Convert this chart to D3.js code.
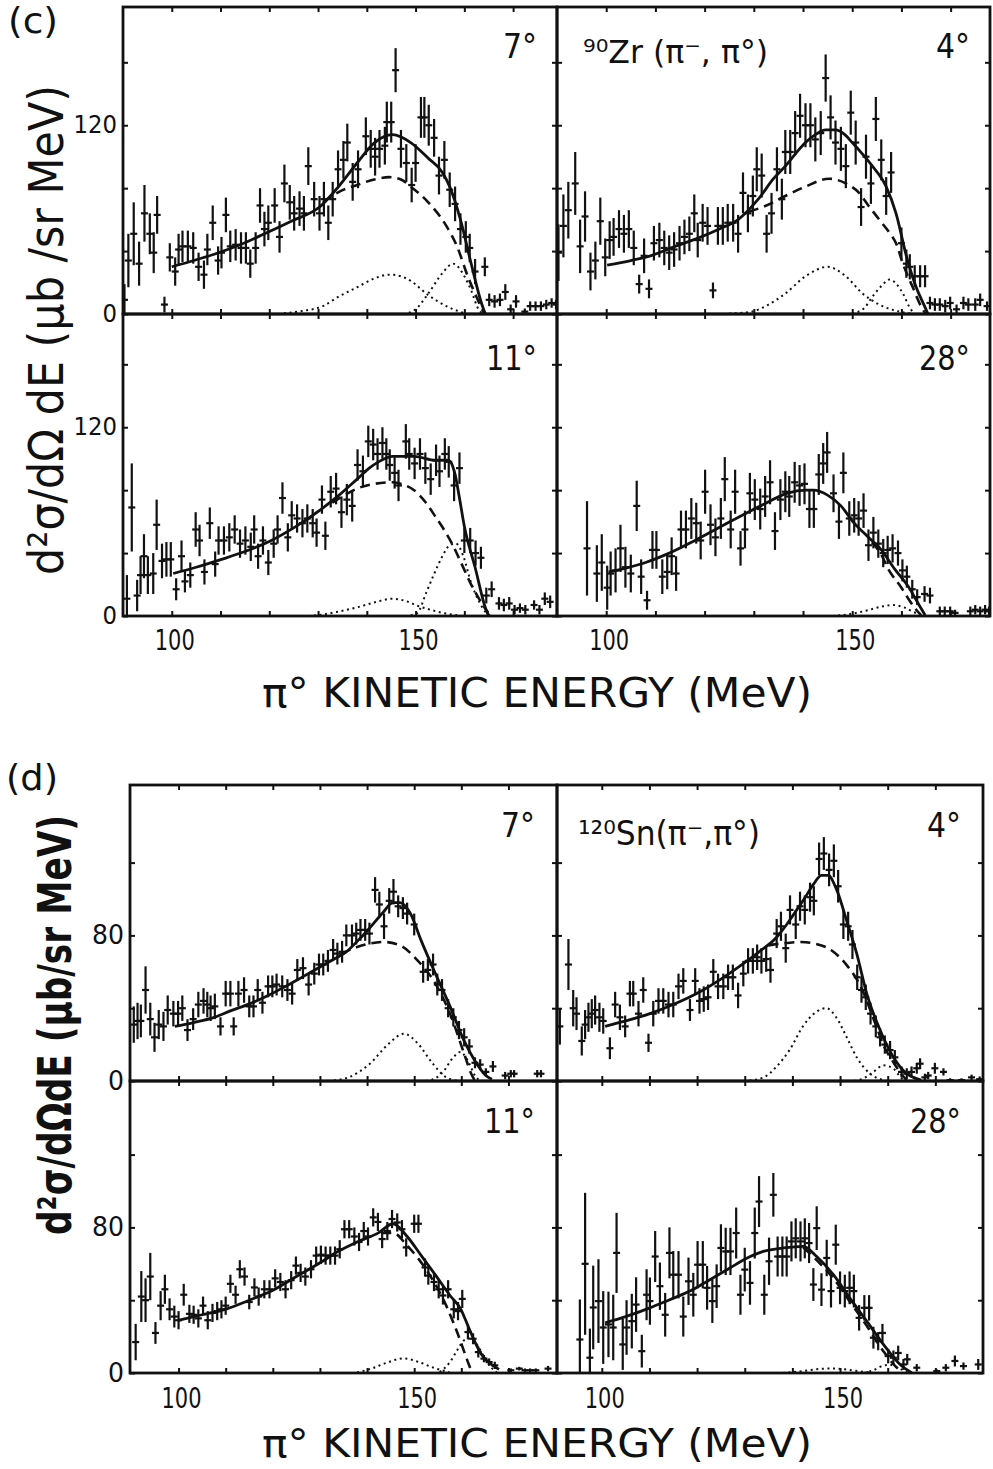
<!DOCTYPE html>
<html><head><meta charset="utf-8">
<script src="https://cdn.jsdelivr.net/npm/d3@7/dist/d3.min.js"></script>
<style>body{margin:0;background:#fff}svg{display:block}</style>
</head><body>
<svg id="fig" width="993" height="1469"></svg>
<script>
// ---------------- DATA ([energy MeV, value, error]) ----------------
const zr7 = [[90.3,9,10],[91.1,34,17],[92.2,51,20],[93.3,32,14],[94.4,64,18],[95.5,51,13],[96.3,39,13],[97,63,12],[98.5,6,5],[99.6,36,9],[100.7,27,9],[101.4,41,10],[102.2,43,10],[103.3,43,10],[104.4,42,10],[105.5,30,9],[106.6,25,9],[107.3,41,10],[108.4,58,11],[109.5,34,9],[110.2,39,10],[111.1,63,11],[112,43,10],[113.1,44,10],[114.2,42,10],[115.2,42,10],[116.1,32,9],[117.2,42,10],[118.1,69,11],[119,54,11],[119.8,58,11],[121.1,69,11],[122.1,49,10],[123.1,83,12],[124.2,71,11],[125.1,64,11],[126.2,67,11],[127.1,64,11],[128,94,12],[129.2,73,11],[130.3,64,11],[131.2,73,11],[132.1,58,11],[133,73,11],[134.1,92,12],[135.2,98,12],[136,109,12],[137.1,84,12],[138.2,92,12],[139.8,113,12],[140.8,105,12],[141.7,100,12],[142.6,105,12],[143.7,107,12],[144.1,122,13],[145,122,13],[145.9,155,14],[147,105,12],[148.1,96,12],[149.2,82,11],[150,96,12],[151.1,125,13],[151.8,125,13],[152.7,120,13],[153.8,112,12],[154.8,88,12],[155.9,98,12],[157,79,11],[158.1,70,11],[159.2,54,10],[160.3,49,10],[161.1,42,9],[162.2,27,8],[164.2,30,6],[165.1,9,4],[166.2,8,4],[167.3,9,4],[168.4,14,5],[169.5,3,3],[170.6,8,4],[172.4,1.5,2],[173.5,5,3],[174.6,5,3],[175.7,5,3],[176.8,6,3],[177.9,7,3],[178.8,6,3]];
const zr4 = [[90.3,39,18],[91.3,56,20],[92.3,66,18],[93.7,83,20],[94.7,43,17],[95.7,62,16],[96.8,27,12],[97.8,34,12],[98.8,59,15],[99.8,36,12],[100.7,47,12],[101.5,49,12],[102.6,54,12],[103.6,51,12],[104.6,54,12],[105.6,42,11],[106.7,19,6],[107.7,37,11],[108.7,16,6],[109.7,45,11],[110.8,47,11],[111.8,42,11],[112.8,39,11],[113.8,41,11],[114.9,45,11],[115.9,49,11],[116.9,51,11],[117.9,64,12],[118.6,47,11],[119.6,58,12],[120.6,56,12],[121.7,15,5],[122.7,56,12],[123.7,56,12],[124.7,58,12],[125.8,58,12],[126.8,51,12],[127.8,77,13],[128.8,64,12],[129.8,75,13],[130.6,92,14],[131.6,88,14],[132.6,51,12],[133.6,64,13],[134.7,92,14],[135.7,73,13],[136.4,103,14],[137.4,103,14],[138.4,115,14],[139.4,126,14],[140.5,120,14],[141.5,120,14],[142.5,111,14],[143.6,115,14],[144.6,150,15],[145.6,125,14],[146.6,109,14],[147.7,105,14],[148.7,94,14],[149.7,128,14],[150.7,109,14],[151.8,68,12],[152.8,100,14],[153.8,83,13],[154.8,124,14],[155.9,98,13],[156.9,75,12],[157.9,90,13],[160,45,10],[161,32,9],[161.7,30,8],[162.7,24,7],[163.8,24,7],[164.8,24,7],[165.8,7,4],[166.8,6,4],[167.8,6,4],[168.9,5,4],[169.9,7,4],[171.2,3,3],[172.6,7,4],[173.6,6,4],[175,6,4],[176,9,4],[177.4,5,3]];
const zr11 = [[90.8,11,15],[91.8,69,28],[92.9,13,10],[93.6,26,12],[94.3,38,14],[95.1,26,12],[96.2,27,13],[96.9,58,16],[98,35,11],[98.9,36,11],[99.8,36,11],[100.9,17,7],[102,38,10],[102.7,22,7],[103.8,26,8],[104.9,55,11],[105.7,48,10],[106.7,28,8],[107.8,59,10],[108.9,33,8],[109.6,48,9],[110.7,48,9],[111.8,50,9],[112.9,55,9],[114,46,9],[115.1,48,9],[116.2,44,9],[116.9,55,9],[117.7,38,8],[118.7,48,9],[119.8,34,8],[120.9,46,9],[121.7,55,9],[122.7,75,10],[123.8,50,9],[124.6,64,9],[125.7,62,9],[126.8,59,9],[127.8,62,9],[128.9,59,9],[129.7,53,9],[130.8,74,9],[131.5,51,9],[132.6,79,10],[133.7,81,10],[134.8,66,10],[135.9,74,10],[137,70,10],[138.1,96,10],[139.2,92,10],[140.3,111,10],[141.3,109,10],[142.2,103,10],[143.2,110,10],[144,103,10],[144.7,96,10],[145.7,91,10],[146.5,83,10],[148,111,11],[148.7,103,10],[149.8,97,10],[150.9,103,10],[152,94,10],[153.1,87,10],[154.2,99,10],[154.9,92,10],[156,103,10],[156.8,98,10],[157.9,83,10],[159,94,10],[160,48,8],[161.2,48,8],[162.3,40,8],[163.4,37,7],[164.5,13,5],[165.6,17,5],[167.1,8,4],[168.1,7,4],[169.2,8,4],[170.3,4,3],[171.4,5,3],[172.5,4,3],[174.3,7,3],[175.4,4,3],[176.5,11,4],[177.6,9,4]];
const zr28 = [[96.1,43,30],[98.1,27,18],[99.1,34,18],[100.2,18,14],[100.9,27,14],[101.9,29,14],[102.9,43,15],[103.9,31,13],[105,27,12],[106.2,70,16],[107.1,25,11],[108.3,10,6],[109.4,42,12],[110.2,42,12],[111.4,25,11],[112.4,28,11],[113.3,38,12],[114.2,27,11],[115.2,55,12],[116.2,55,12],[117.3,62,13],[118.3,59,13],[119.2,48,12],[120.1,79,14],[121.2,58,13],[122.2,50,12],[123.3,62,13],[124.1,87,14],[125.3,55,12],[126.2,79,14],[127.3,43,11],[128.2,55,12],[129.2,78,13],[130.2,74,13],[131.3,68,13],[132.3,76,13],[133.3,85,14],[134.3,54,12],[135.4,74,13],[136.4,79,13],[137.2,76,13],[138.3,85,13],[139.3,83,13],[140.3,84,13],[141.3,68,12],[142.2,68,12],[143.2,90,13],[144.1,97,13],[144.9,104,13],[146.2,78,12],[147.3,60,11],[148.2,91,13],[149.4,62,11],[150.4,64,11],[151.3,62,11],[152.3,67,11],[153.3,45,10],[154.3,53,10],[155.3,46,9],[156.3,40,9],[157.2,42,9],[158.2,43,9],[159.3,40,8],[160.2,29,7],[161.1,25,7],[162.2,17,6],[163.2,12,5],[164.7,14,5],[165.8,13,5],[167.8,3,3],[168.8,3,3],[169.9,3,3],[170.9,2,2],[174,3,3],[175,4,3],[176,3,3],[177,4,3],[177.8,3,3]];
const sn7 = [[90.5,31,10],[91.3,33,10],[92,33,9],[93,50,13],[94,34,9],[94.9,24,8],[95.8,31,8],[96.8,30,8],[97.7,39,8],[98.9,37,7],[99.9,37,7],[100.8,40,7],[101.9,28,6],[103.1,34,6],[104.2,42,7],[105.3,44,7],[106.1,42,7],[106.8,40,7],[107.7,41,7],[108.9,30,5],[110,48,7],[111,48,7],[111.7,30,5],[112.7,48,7],[113.9,50,7],[115,41,6],[115.9,41,6],[116.8,50,6],[117.8,43,6],[119,52,6],[119.9,52,6],[120.8,53,6],[122,52,6],[123.1,50,6],[124.1,48,6],[125.2,61,6],[126.4,62,6],[127.6,53,6],[128.8,59,6],[129.8,64,6],[130.7,64,6],[131.7,66,6],[132.8,72,6],[133.7,70,6],[134.7,71,6],[135.6,80,6],[136.8,80,6],[137.7,81,6],[138.6,83,6],[139.6,83,6],[140.5,81,6],[141.7,105,7],[142.6,97,7],[143.6,85,7],[144.7,99,7],[145.6,104,7],[146.6,96,6],[147.6,95,6],[148.5,92,6],[150,86,6],[151.9,60,6],[152.9,61,6],[154,64,6],[154.9,53,6],[155.9,50,6],[157.2,40,5],[158.3,35,5],[159.5,28,5],[160.6,24,5],[161.7,19,4],[162.9,10,3],[164,9,3],[165.2,5,2],[166.7,8,3],[169.3,3,2],[170.5,4,2],[171.2,4,2],[176.1,4,2],[176.9,4,2]];
const sn4 = [[90.2,30,10],[91.2,30,10],[93,64,14],[94,40,10],[94.7,37,9],[95.8,22,8],[96.5,31,8],[97.2,35,8],[97.9,37,8],[98.6,39,8],[99.5,35,8],[100.3,33,7],[101.7,18,6],[102.8,42,7],[103.8,35,7],[104.9,30,6],[105.9,48,7],[106.6,48,7],[107.7,37,7],[108.7,50,7],[109.8,21,5],[110.8,37,7],[111.9,44,7],[112.9,44,7],[114,42,7],[115,42,7],[116.1,52,7],[117.1,55,7],[118.5,39,6],[119.6,55,7],[120.5,44,7],[121.4,45,7],[122.3,46,7],[123.4,60,7],[124.4,52,7],[125.5,52,7],[126.5,57,7],[127.5,57,7],[128.6,47,7],[129.7,59,7],[130.7,66,7],[131.7,66,7],[132.6,68,7],[133.5,66,7],[134.5,67,7],[135.4,61,7],[136.7,81,8],[137.6,85,8],[138.6,73,8],[139.5,94,8],[140.7,86,8],[141.6,96,8],[142.6,94,8],[143.7,101,8],[144.5,99,8],[145.6,122,9],[146.6,125,9],[147.7,116,9],[148.7,121,9],[149.6,107,9],[150.7,86,8],[151.7,85,8],[152.6,75,8],[153.6,57,7],[154.5,50,7],[155.4,46,7],[156.4,37,6],[157.5,30,6],[158.4,24,5],[159.4,20,5],[160.5,17,5],[161.5,13,4],[162.9,5,3],[164,4,3],[165,5,3],[166.1,7,3],[166.8,9.5,3],[167.8,2,2],[168.5,3,2],[169.9,7,3],[171.7,5,2],[173.1,0.5,1],[175.5,0.5,1],[177.6,2,1.5],[179.3,1,1.5]];
const sn11 = [[90.9,17,10],[92.1,42,14],[93,40,12],[94,53,13],[95.1,22,6],[96.2,37,8],[97.1,46,8],[98.1,35,6],[99.1,31,6],[100,29,5],[101.1,43,6],[102.3,32.5,5],[103.2,32,5],[104.2,30,5],[105.2,37,5],[106.2,29,5],[107.2,33,5],[108.2,34,5],[109.1,35,5],[110,37,5],[111,49,5],[112.1,43,5],[113,57,5],[114,53,5],[115,39,4],[116.1,47,5],[117,42,5],[118.2,46,5],[119.3,46,5],[120.5,52,5],[121.6,50,5],[122.7,46,5],[123.9,51,5],[124.9,59,5],[125.9,55,5],[126.9,53,5],[128.1,57,5],[129.2,64.5,5],[130.2,65,5],[131.2,64.5,5],[132.2,64.5,5],[133.2,64.5,5],[134.2,68,5],[135.2,79,5],[136.2,79,5],[137.3,75,5],[138.3,72,5],[139.3,78,5],[140.2,75,5],[141.3,85.5,5],[142.3,83,5],[143.2,73.6,5],[144.3,78,5],[145.3,84.6,5],[146.4,82.7,5],[147.4,79,5],[148.3,69,5],[150,82,5],[150.9,82,5],[152.3,58,5],[153,53.5,5],[154.2,50,5],[155.2,46,5],[156.1,42.6,5],[157.2,46,5],[158.4,35,5],[159.3,34,5],[160.2,40.7,5],[161.4,22.5,4],[162.5,18.8,3],[163.6,11.5,3],[164.8,7.9,2],[165.9,6,2],[167.1,4.2,2],[170.5,1.5,1],[172.3,2.4,1],[173.5,1.5,1],[174.6,1.5,1],[175.8,1.5,1],[178.4,2.4,1.5]];
const sn28 = [[95.4,18.4,22],[96.5,60,39],[97.5,8.4,16],[98.2,36,23],[99.3,39.5,23],[100.3,25,20],[101.4,26.7,18],[102.4,25,18],[103.1,66,22],[104.4,15.7,14],[105.2,25,15],[106.3,28.5,15],[107.2,37.6,15],[108.4,12,9],[109.4,43,14],[110.1,39.5,13],[111.2,64,14],[112.2,47.7,13],[113.3,32,12],[114.2,66,14],[115,54,13],[116.1,54,13],[117.1,31,11],[118.2,50.4,13],[119.2,43,12],[120.1,59.5,13],[121.2,59.5,13],[122.1,46.8,12],[123.2,39.5,12],[124.1,47.7,12],[125,68.7,13],[126,66.8,13],[127,66.8,13],[128.2,76.9,14],[129.1,43,11],[130,56.8,12],[131.1,49.5,12],[132.1,76.9,14],[133,94.2,14],[134.1,43,11],[135.1,61.4,13],[136,97.9,12],[136.9,64,11],[137.9,64,11],[138.8,64,11],[139.8,72.3,11],[140.7,74,11],[141.7,72.3,11],[142.6,74,11],[143.5,71.4,11],[144.4,48.6,9],[145.1,79.6,12],[146.1,45.8,9],[147.2,63.2,10],[148.1,45,9],[149.1,70.5,11],[150,46.8,9],[151,45,9],[152,46.8,9],[152.9,45,9],[154,30.3,7],[155.1,35.8,7],[156.1,35.8,7],[157,19.4,6],[158,17.5,5],[158.9,22,5],[160.1,9.3,4],[161.2,8.4,4],[162.2,11,4],[163.3,4.7,3],[164.1,7.5,3],[166.1,2.9,2],[170.3,1,1],[172.2,2.9,2],[174.1,6.6,3],[175.9,3.8,2],[179,4.7,3]];

// ---------------- FIT CURVES ([energy, value]) ----------------
const zr7Fit = [[100,30],[104.5,34],[108.7,38],[114,44],[119,51],[124.5,59],[130.5,68.5],[134.2,81],[138,96],[141.6,109],[145.3,114],[149,109],[152.6,99],[155.5,90],[157,81],[159.2,60],[161.4,32],[163.6,6],[164.3,0]];
const zr7Qf = [[131,71],[134.5,78],[138,82],[141.5,85.5],[144.6,87],[147,85.5],[149,81],[152.6,71],[156.3,56],[158.5,43],[160.7,24],[162.9,8],[164,0.5]];
const zr7G1 = [[123,0.5],[127,2],[131,5],[134.2,11],[138,17],[141.5,22.5],[144.6,25],[147,24],[149,21],[152.6,12],[156.3,5],[160,0.5]];
const zr7G2 = [[147.5,0],[150,3],[152.6,13],[155.5,26],[157.7,32],[160,24],[161.4,15],[162.9,3],[163.8,0]];

const zr4Fit = [[100.2,31],[105,34],[109,37],[114,43],[119.3,49],[123,54],[126.8,60],[130.9,73],[134,86],[136.4,94],[138.5,102],[140.5,109],[142.5,114],[144.6,117],[146.6,117],[148.5,114],[150,109],[152,102],[154.1,94],[156.9,81],[158.9,64],[161,37],[163,17],[164.7,5],[165.4,0]];
const zr4Qf = [[129,65],[132.2,68.5],[136.4,75],[140.5,81],[145.3,86],[148.7,83],[151.4,77],[153.4,68.5],[155.5,60],[157.6,51.5],[158.9,45],[160.3,32],[162.3,17],[164.4,2.5],[165,0]];
const zr4G1 = [[125,0.3],[129.5,1.5],[133,6],[136.4,13],[140.5,24],[145,30],[148.7,24],[152.1,13],[155.5,6],[159.6,1.5],[162,0.3]];
const zr4G2 = [[150,0.3],[152.5,4],[154.1,11],[156,18],[157.6,22],[159,19],[160.3,13],[161.7,4],[162.5,0.5]];

const zr11Fit = [[100.3,27],[105,31],[110.2,36],[115,41],[120.4,48],[125,56],[130.7,68],[134,76],[138,87],[140.5,94],[142.4,98],[145.3,101.5],[149.7,101.5],[154.1,99],[156.7,99],[158.1,90],[159,75],[160,57],[162.2,31],[164.4,4.4],[165,0]];
const zr11Qf = [[132.9,72],[135.5,77],[138,81],[141.5,84],[145.3,85],[147.5,83.5],[149.7,80],[152,72.5],[154.1,63],[156,54],[157.8,44],[159.6,32],[161.4,20],[163.6,8],[164.9,2]];
const zr11G1 = [[128,0],[131,1],[134.5,3],[138,5.5],[142,9],[145.3,11],[148,9.5],[150.4,6.5],[153,4],[155.5,2],[159,0.3]];
const zr11G2 = [[149,0.5],[150.4,2],[152.2,15],[153.7,26],[155.5,38],[157,45],[158.3,46],[159.8,38],[161.4,21],[162.9,10],[164.5,2],[165.5,0]];

const zr28Fit = [[100.5,28],[104,30.5],[108,34],[112.1,39],[118.3,48.5],[125.8,61],[132,71],[136.7,78],[140.8,80],[142.2,80],[144.9,77],[147.7,70],[150.4,59],[153.1,50.6],[155.9,42],[158.6,30],[161.4,18.7],[163.4,8],[164.8,0.6]];
const zr28Qf = [[154,47],[155.9,39],[157.3,30],[160,18],[161.4,11],[163,4],[164,0.5]];
const zr28G2 = [[146,0],[150,1.5],[153,3.5],[156,6],[158.2,7],[160.5,5.5],[162.5,2.5],[164.5,0]];

const sn7Fit = [[99.2,30],[103,32],[107.6,35],[111,38.5],[115.2,42.5],[119,47],[122.7,52],[126.5,57.5],[130.3,63],[133,67],[135.6,71],[138,77],[140.2,83],[143.2,92],[145.5,98],[147,98],[149.2,92],[151.5,77],[154.5,59],[157.6,41],[160.6,22],[162.9,11],[165.2,3],[166.5,1]];
const sn7Qf = [[134.5,70],[137.9,73.6],[140.5,75.5],[143.4,76.4],[147,74.5],[150.8,66],[154.5,53.5],[157.6,37],[160.6,15],[162.1,4],[162.8,0.5]];
const sn7G1 = [[133,0.3],[136.1,2],[140.6,9.5],[144.6,20.5],[147.8,26],[150.8,20.5],[153.8,10],[156.8,2],[159,0.3]];
const sn7G2 = [[152.5,0],[154.5,1.5],[156.1,5],[158.3,13],[159.8,16],[161.3,11.5],[162.9,3],[164,0]];

const sn4Fit = [[100.7,30],[105,33],[110.1,37],[115,42],[120.6,49],[125,56],[129.7,64.5],[133,71],[136.7,79],[138.8,86],[140.9,94],[142.7,101],[144.4,108],[146.1,113],[147.5,113],[149.3,105],[151.4,88],[153.5,70],[155.6,48],[158.4,28],[161.2,13],[164,4],[165.4,2],[167,0.5]];
const sn4Qf = [[135,74.5],[137.6,75.5],[141.8,76.4],[144.6,75.5],[148.1,72],[151.6,63],[154.4,51.6],[157.2,33],[159.3,18.7],[161.4,9.5],[162.8,4],[164,0.5]];
const sn4G1 = [[131,0.3],[134,2],[136.6,7.7],[139.4,17],[142.2,30],[145,38],[147.1,40],[149.2,35],[151.4,24],[153.5,13],[156.3,4],[159.1,0.5]];
const sn4G2 = [[153,0],[155,1.5],[157,5],[159.1,8.6],[161.2,6.8],[162.9,1.5],[164,0]];

const sn11Fit = [[100,29],[105,32],[109.9,35],[115,40],[119.7,45],[125,53],[130.3,61],[134,67],[137.9,72],[142.4,77],[145.5,82],[148.5,75],[151.5,64.5],[154.6,53.5],[157.6,42.6],[159.9,35],[161.4,26],[162.9,17],[164.4,9.7],[166.7,4.2],[168,2]];
const sn11Qf = [[143,77],[145.5,77],[148.5,70],[153,55],[156.8,37],[159.1,22.5],[161.4,6],[162.2,0.5]];
const sn11G1 = [[137.9,0.3],[141,2.5],[144,5.5],[147.7,8],[151,6],[154,3],[157.5,0.3]];
const sn11G2 = [[155.4,0.5],[157.6,6],[159.1,12.4],[160.6,18],[162.1,19],[163.5,15],[164.8,9],[166.2,3.5],[167.5,0.5]];

const sn28Fit = [[100.7,27.6],[105,31],[110.1,35.8],[114,40],[118.5,45],[122.5,51],[126.9,57.7],[130,62.5],[133.9,66.8],[138.1,68.7],[142.3,69.6],[145.1,64],[148.6,54],[152.1,41],[155.6,28.5],[159.1,15.7],[162.6,4.7],[165,0.2]];
const sn28Qf = [[142.3,69],[145.1,62],[148.6,52],[152.1,39],[155.6,26],[159.1,12],[161.5,4],[163,0.5]];
const sn28G1 = [[138,0],[142,1],[146,2.3],[148.6,2.5],[151,2],[154,1],[157,0]];
const sn28G2 = [[155,0],[157,1.5],[159,4],[160.5,4.5],[162,3],[164,0.5]];

// ---------------- TICKS & LABELS ----------------
const xTicks = [100,110,120,130,140,150,160,170];
const xTickLabels = [100,150];
const yTicksC = [0,40,80,120,160];
const yLabelsC = [0,120];
const yTicksD = [0,40,80,120];
const yLabelsD = [0,80];
const angleLabels = ["7°","4°","11°","28°"];

// ---------------- DRAWING ----------------
const FONT = "'DejaVu Sans', 'Liberation Sans', sans-serif";
const svg = d3.select("#fig");
svg.append("rect").attr("width",993).attr("height",1469).attr("fill","#fff");
let clipN = 0;

function drawPanel(o) {
  const x = d3.scaleLinear().domain(o.xdom).range([o.x0, o.x1]);
  const y = d3.scaleLinear().domain([0, o.ymax]).range([o.y1, o.y0]);
  const id = "clip" + (clipN++);
  svg.append("clipPath").attr("id", id).append("rect")
    .attr("x", o.x0).attr("y", o.y0 - 2).attr("width", o.x1 - o.x0).attr("height", o.y1 - o.y0 + 1);
  const g = svg.append("g").attr("clip-path", `url(#${id})`);
  const line = d3.line().x(d => x(d[0])).y(d => y(d[1])).curve(d3.curveMonotoneX);
  (o.dots || []).forEach(c => g.append("path").datum(c).attr("d", line)
    .attr("fill","none").attr("stroke","#111").attr("stroke-width",2).attr("stroke-dasharray","2,3.6"));
  if (o.qf) g.append("path").datum(o.qf).attr("d", line)
    .attr("fill","none").attr("stroke","#111").attr("stroke-width",2.6).attr("stroke-dasharray","10,6");
  g.append("path").datum(o.fit).attr("d", line)
    .attr("fill","none").attr("stroke","#111").attr("stroke-width",2.8);
  const pts = g.selectAll("g.pt").data(o.data).join("g").attr("class","pt")
    .attr("stroke","#111").attr("stroke-width",2.2);
  pts.append("line").attr("x1", d => x(d[0])).attr("x2", d => x(d[0]))
    .attr("y1", d => y(d[1] - d[2])).attr("y2", d => y(d[1] + d[2]));
  pts.append("line").attr("x1", d => x(d[0]) - 3.5).attr("x2", d => x(d[0]) + 3.5)
    .attr("y1", d => y(d[1])).attr("y2", d => y(d[1]));
  const tk = 5;
  const ax = [
    [d3.axisBottom(x).tickValues(xTicks), `translate(0,${o.y1})`],
    [d3.axisTop(x).tickValues(xTicks), `translate(0,${o.y0})`],
    [d3.axisLeft(y).tickValues(o.yTicks), `translate(${o.x0},0)`],
    [d3.axisRight(y).tickValues(o.yTicks), `translate(${o.x1},0)`]
  ];
  ax.forEach(([a, t]) => {
    const ag = svg.append("g").attr("transform", t)
      .call(a.tickSize(-tk).tickSizeOuter(0).tickFormat(""));
    ag.select(".domain").remove();
    ag.selectAll("line").attr("stroke","#111").attr("stroke-width",2);
  });
  svg.append("rect").attr("x", o.x0).attr("y", o.y0).attr("width", o.x1 - o.x0).attr("height", o.y1 - o.y0)
    .attr("fill","none").attr("stroke","#111").attr("stroke-width",2.8);
  if (o.yLabels) o.yLabels.forEach(v => {
    svg.append("text").attr("x", o.x0 - 6).attr("y", y(v) + o.ylOff)
      .attr("text-anchor","end").attr("font-family",FONT).attr("font-size",o.ylFont)
      .attr("fill","#111").text(v)
      .attr("textLength", String(v).length * o.ylCharW).attr("lengthAdjust","spacingAndGlyphs");
  });
  if (o.xLabels) o.xLabels.forEach(v => {
    svg.append("text").attr("x", x(v) + 3).attr("y", o.y1 + o.xlOff)
      .attr("text-anchor","middle").attr("font-family",FONT).attr("font-size",o.xlFont)
      .attr("fill","#111").text(v)
      .attr("textLength", 40).attr("lengthAdjust","spacingAndGlyphs");
  });
  svg.append("text").attr("x", o.angX).attr("y", o.angY).attr("text-anchor","end")
    .attr("font-family",FONT).attr("font-size",34).attr("fill","#111").text(o.angle)
    .attr("textLength", o.angle.length * 17).attr("lengthAdjust","spacingAndGlyphs");
}

// ---- part (c): 90Zr ----
const cRows = [[7,314],[314,616]];
const cCols = [[123,557,[90,179]],[557,990,[90,178]]];
const cPx = 1.573;
const cSets = [
  {data: zr7, fit: zr7Fit, qf: zr7Qf, dots: [zr7G1, zr7G2], r: 0, c: 0, angle: angleLabels[0]},
  {data: zr4, fit: zr4Fit, qf: zr4Qf, dots: [zr4G1, zr4G2], r: 0, c: 1, angle: angleLabels[1]},
  {data: zr11, fit: zr11Fit, qf: zr11Qf, dots: [zr11G1, zr11G2], r: 1, c: 0, angle: angleLabels[2]},
  {data: zr28, fit: zr28Fit, qf: zr28Qf, dots: [zr28G2], r: 1, c: 1, angle: angleLabels[3]}
];
cSets.forEach(s => {
  const [y0, y1] = cRows[s.r];
  const [x0, x1, xdom] = cCols[s.c];
  drawPanel(Object.assign({}, s, {x0, x1, y0, y1, xdom, ymax: (y1 - y0) / cPx, yTicks: yTicksC,
    yLabels: s.c === 0 ? yLabelsC : null, ylFont: 24, ylCharW: 14.5, ylOff: 8,
    xLabels: s.r === 1 ? xTickLabels : null, xlOff: 34, xlFont: 29,
    angX: x1 - 20, angY: s.r === 0 ? 58 : 370}));
});

// ---- part (d): 120Sn ----
const dRows = [[785,1081],[1081,1373]];
const dCols = [[130,557,[89.7,180.3]],[557,983,[90.6,180]]];
const dPx = 1.82;
const dSets = [
  {data: sn7, fit: sn7Fit, qf: sn7Qf, dots: [sn7G1, sn7G2], r: 0, c: 0, angle: angleLabels[0]},
  {data: sn4, fit: sn4Fit, qf: sn4Qf, dots: [sn4G1, sn4G2], r: 0, c: 1, angle: angleLabels[1]},
  {data: sn11, fit: sn11Fit, qf: sn11Qf, dots: [sn11G1, sn11G2], r: 1, c: 0, angle: angleLabels[2]},
  {data: sn28, fit: sn28Fit, qf: sn28Qf, dots: [sn28G1, sn28G2], r: 1, c: 1, angle: angleLabels[3]}
];
dSets.forEach(s => {
  const [y0, y1] = dRows[s.r];
  const [x0, x1, xdom] = dCols[s.c];
  drawPanel(Object.assign({}, s, {x0, x1, y0, y1, xdom, ymax: (y1 - y0) / dPx, yTicks: yTicksD,
    yLabels: s.c === 0 ? yLabelsD : null, ylFont: 27, ylCharW: 16, ylOff: 9,
    xLabels: s.r === 1 ? xTickLabels : null, xlOff: 35, xlFont: 28,
    angX: x1 - 22, angY: y0 + 52}));
});

// ---- text ----
function txt(x, y, s, size, opts = {}) {
  const t = svg.append("text").attr("x", x).attr("y", y).attr("font-family", FONT)
    .attr("font-size", size).attr("fill", "#111").text(s);
  if (opts.anchor) t.attr("text-anchor", opts.anchor);
  if (opts.len) t.attr("textLength", opts.len).attr("lengthAdjust", "spacingAndGlyphs");
  if (opts.weight) t.attr("font-weight", opts.weight);
  if (opts.rot) t.attr("transform", `rotate(-90,${x},${y})`);
  return t;
}
txt(8, 33, "(c)", 36, {len: 50});
txt(6, 790, "(d)", 36, {len: 52});
txt(583, 63, "⁹⁰Zr (π⁻, π°)", 32, {len: 185});
txt(578, 845, "¹²⁰Sn(π⁻,π°)", 34, {len: 182});
txt(537, 707, "π° KINETIC ENERGY (MeV)", 41, {anchor: "middle", len: 550});
txt(537, 1457, "π° KINETIC ENERGY (MeV)", 39, {anchor: "middle", len: 550});
txt(63, 330, "d²σ/dΩ dE (μb /sr MeV)", 48, {anchor: "middle", len: 490, rot: true});
txt(71, 1025, "d²σ/dΩdE (μb/sr MeV)", 46, {anchor: "middle", len: 420, rot: true, weight: "bold"});
</script>
</body></html>
